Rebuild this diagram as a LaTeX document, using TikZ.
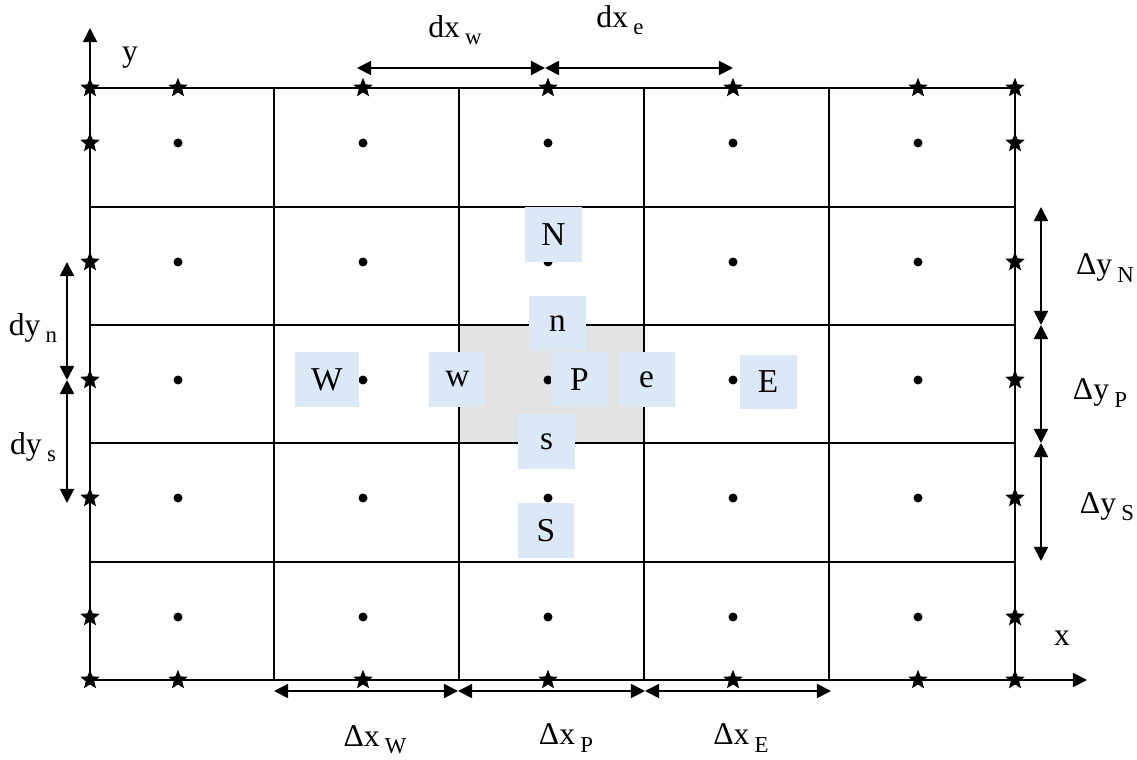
\documentclass[tikz,border=0pt]{standalone}
\usepackage{fontspec}
\setmainfont{Liberation Serif}
\usetikzlibrary{arrows.meta,shapes.geometric}
\definecolor{boxblue}{RGB}{219,232,246}
\definecolor{marble}{RGB}{226,226,226}
\newcommand{\lowsub}[1]{\,\raisebox{-0.5ex}{\fontsize{13}{14}\selectfont #1}}
\tikzset{
  gridline/.style={line width=1pt},
  axisline/.style={line width=1pt,-{Triangle[length=8pt,width=8pt]}},
  dimarrow/.style={line width=1pt,{Triangle[length=8pt,width=8pt]}-{Triangle[length=8pt,width=8pt]}},
  cellpt/.style={circle,fill=black,inner sep=0pt,minimum size=0.18cm},
  starpt/.style={star,star points=5,star point ratio=2.3,fill=black,inner sep=0pt,minimum size=0.41cm},
  lbl/.style={fill=boxblue,minimum width=1.14cm,minimum height=1.1cm,inner sep=0pt,font=\fontsize{19}{21}\selectfont},
  dimtext/.style={font=\fontsize{18}{20}\selectfont,inner sep=0pt}
}
\begin{document}
\begin{tikzpicture}[x=0.02cm,y=-0.02cm]
\useasboundingbox (0,0) rectangle (1137,760);
\def\xleft{90}
\def\xright{1015}
\def\ytop{88}
\def\ybot{680}
              %shaded control volume
\fill [marble] (459,325) rectangle (644,443);
              %grid lines
\foreach \x in {274,459,644,829}{
\draw [gridline] (\x,\ytop) -- (\x,\ybot);
}
\foreach \y in {207,325,443,562}{
\draw [gridline] (\xleft,\y) -- (\xright,\y);
}
\draw [gridline] (\xleft,\ytop) -- (\xright,\ytop) -- (\xright,\ybot);
              %cell centres
\foreach \x [count=\i] in {178,363,548,733,918}{
\foreach \y [count=\j] in {143,262,380,498,617}{
\node [cellpt] (c\i\j) at (\x,\y) {};
}
}
              %labels of the points
\node [lbl] (N) at (553.5,234.5) {N};
\node [lbl] (nf) at (557.5,323.5) {n};
\node [lbl] (wf) at (457.5,379.5) {w};
\node [lbl] (P) at (579.5,379.5) {P};
\node [lbl] (ef) at (646.5,379.5) {e};
\node [lbl] (sf) at (546.5,441.5) {s};
\node [lbl, minimum width=1.28cm] (W) at (327,379.5) {W};
\node [lbl] (E) at (768,382) {E};
\node [lbl] (S) at (546,530.5) {S};
              %boundary points
\foreach \x [count=\i] in {90,178,363,548,733,918,1015}{
\node [starpt] (st\i) at (\x,\ytop) {};
\node [starpt] (sb\i) at (\x,\ybot) {};
}
\foreach \y [count=\j] in {143,262,380,498,617}{
\node [starpt] (sl\j) at (\xleft,\y) {};
\node [starpt] (sr\j) at (\xright,\y) {};
}
              %axes
\coordinate (O) at (\xleft,\ybot);
\coordinate (ytip) at (\xleft,28);
\coordinate (xtip) at (1087,\ybot);
\draw [axisline] (O) -- (ytip);
\draw [axisline] (O) -- (xtip);
\node [dimtext] (ylab) at (130,58) {y};
\node [dimtext] (xlab) at (1062,638) {x};
              %dimension arrows
\coordinate (dxa) at (357,68);
\coordinate (dxb) at (545,68);
\coordinate (dxc) at (733,68);
\draw [dimarrow] (dxa) -- (dxb);
\draw [dimarrow] (dxb) -- (dxc);
\node [dimtext] (dxw) at (455,30) {dx\lowsub{w}};
\node [dimtext] (dxe) at (620,20) {dx\lowsub{e}};
\coordinate (bxa) at (274,691);
\coordinate (bxb) at (458,691);
\coordinate (bxc) at (645,691);
\coordinate (bxd) at (831,691);
\draw [dimarrow] (bxa) -- (bxb);
\draw [dimarrow] (bxb) -- (bxc);
\draw [dimarrow] (bxc) -- (bxd);
\node [dimtext] (DxW) at (375,740) {Δx\lowsub{W}};
\node [dimtext] (DxP) at (566,738) {Δx\lowsub{P}};
\node [dimtext] (DxE) at (741,738) {Δx\lowsub{E}};
\coordinate (lya) at (67,262);
\coordinate (lyb) at (67,380);
\coordinate (lyc) at (67,503);
\draw [dimarrow] (lya) -- (lyb);
\draw [dimarrow] (lyb) -- (lyc);
\node [dimtext] (dyn) at (33,328) {dy\lowsub{n}};
\node [dimtext] (dys) at (33,447) {dy\lowsub{s}};
\coordinate (rya) at (1041,207);
\coordinate (ryb) at (1041,325);
\coordinate (ryc) at (1041,443);
\coordinate (ryd) at (1041,561);
\draw [dimarrow] (rya) -- (ryb);
\draw [dimarrow] (ryb) -- (ryc);
\draw [dimarrow] (ryc) -- (ryd);
\node [dimtext] (DyN) at (1105,268) {Δy\lowsub{N}};
\node [dimtext] (DyP) at (1100,393) {Δy\lowsub{P}};
\node [dimtext] (DyS) at (1107,507) {Δy\lowsub{S}};
\end{tikzpicture}
\end{document}
